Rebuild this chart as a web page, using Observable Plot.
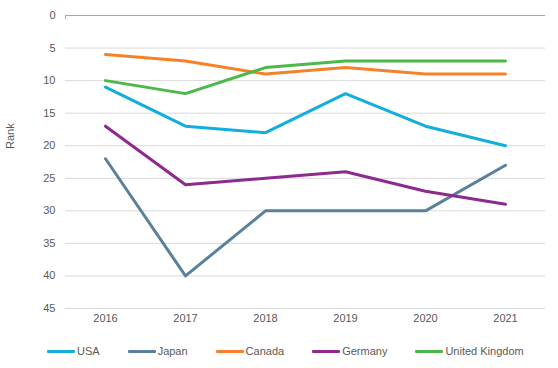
<!DOCTYPE html>
<html><head><meta charset="utf-8">
<script src="https://cdn.jsdelivr.net/npm/d3@7"></script>
<script src="https://cdn.jsdelivr.net/npm/@observablehq/plot@0.6"></script>
<style>
body{margin:0;background:#fff;font-family:"Liberation Sans",Arial,sans-serif;}
#legend{display:flex;align-items:center;height:32px;padding-left:47px;font-size:11px;color:#595959;}
.item{display:flex;align-items:center;margin-right:28px;}
.sw{width:28px;height:3px;margin-right:2px;border-radius:1px;}
</style></head>
<body><div id="chart"></div><div id="legend"></div>
<script>
const years = ["2016","2017","2018","2019","2020","2021"];
const seriesNames = ["USA","Japan","Canada","Germany","United Kingdom"];
const colors = ["#12AEDC","#5A819C","#F5822A","#8D2A8E","#4DB749"];
const usa = [11,17,18,12,17,20];
const japan = [22,40,30,30,30,23];
const canada = [6,7,9,8,9,9];
const germany = [17,26,25,24,27,29];
const uk = [10,12,8,7,7,7];
const yTicks = [0,5,10,15,20,25,30,35,40,45];

const valuesList = [usa,japan,canada,germany,uk];
const data = [];
seriesNames.forEach((s,i)=>years.forEach((y,j)=>data.push({series:s,year:y,rank:valuesList[i][j]})));

const chart = Plot.plot({
  width:558, height:335,
  marginLeft:65, marginRight:13, marginTop:15, marginBottom:27,
  style:{fontFamily:"Liberation Sans, Arial, sans-serif", fontSize:"11px", color:"#595959"},
  x:{type:"point", domain:years, padding:0.5, label:null, tickSize:0, tickPadding:6},
  y:{domain:[0,45], reverse:true, ticks:yTicks, label:null, tickSize:0, tickPadding:10},
  color:{domain:seriesNames, range:colors},
  marks:[
    Plot.ruleY(yTicks.slice(1), {stroke:"#d9d9d9", strokeWidth:1}),
    Plot.ruleY([0], {stroke:"#a6a6a6", strokeWidth:1}),
    Plot.tickY([0], {frameAnchor:"left", stroke:"#a6a6a6", dy:0, insetLeft:0}),
    Plot.line(data, {x:"year", y:"rank", stroke:"series", strokeWidth:3, strokeLinejoin:"round"}),
    Plot.text(["Rank"], {frameAnchor:"left", dx:-55, dy:-13, rotate:-90, fill:"#595959", fontSize:11}),
    Plot.axisX({tickSize:0, tickPadding:6, fill:"#595959"}),
    Plot.axisY({ticks:yTicks, tickSize:0, tickPadding:10, fill:"#595959"})
  ]
});
// small tick at left end of the top axis line
const svg = d3.select(chart);
svg.append("line").attr("x1",65.5).attr("x2",65.5).attr("y1",15).attr("y2",19).attr("stroke","#a6a6a6");
document.getElementById("chart").appendChild(chart);

const lg = document.getElementById("legend");
seriesNames.forEach((s,i)=>{
  const it = document.createElement("div"); it.className="item";
  const sw = document.createElement("div"); sw.className="sw"; sw.style.background=colors[i];
  const t = document.createElement("span"); t.textContent=s;
  it.appendChild(sw); it.appendChild(t); lg.appendChild(it);
});
</script></body></html>
